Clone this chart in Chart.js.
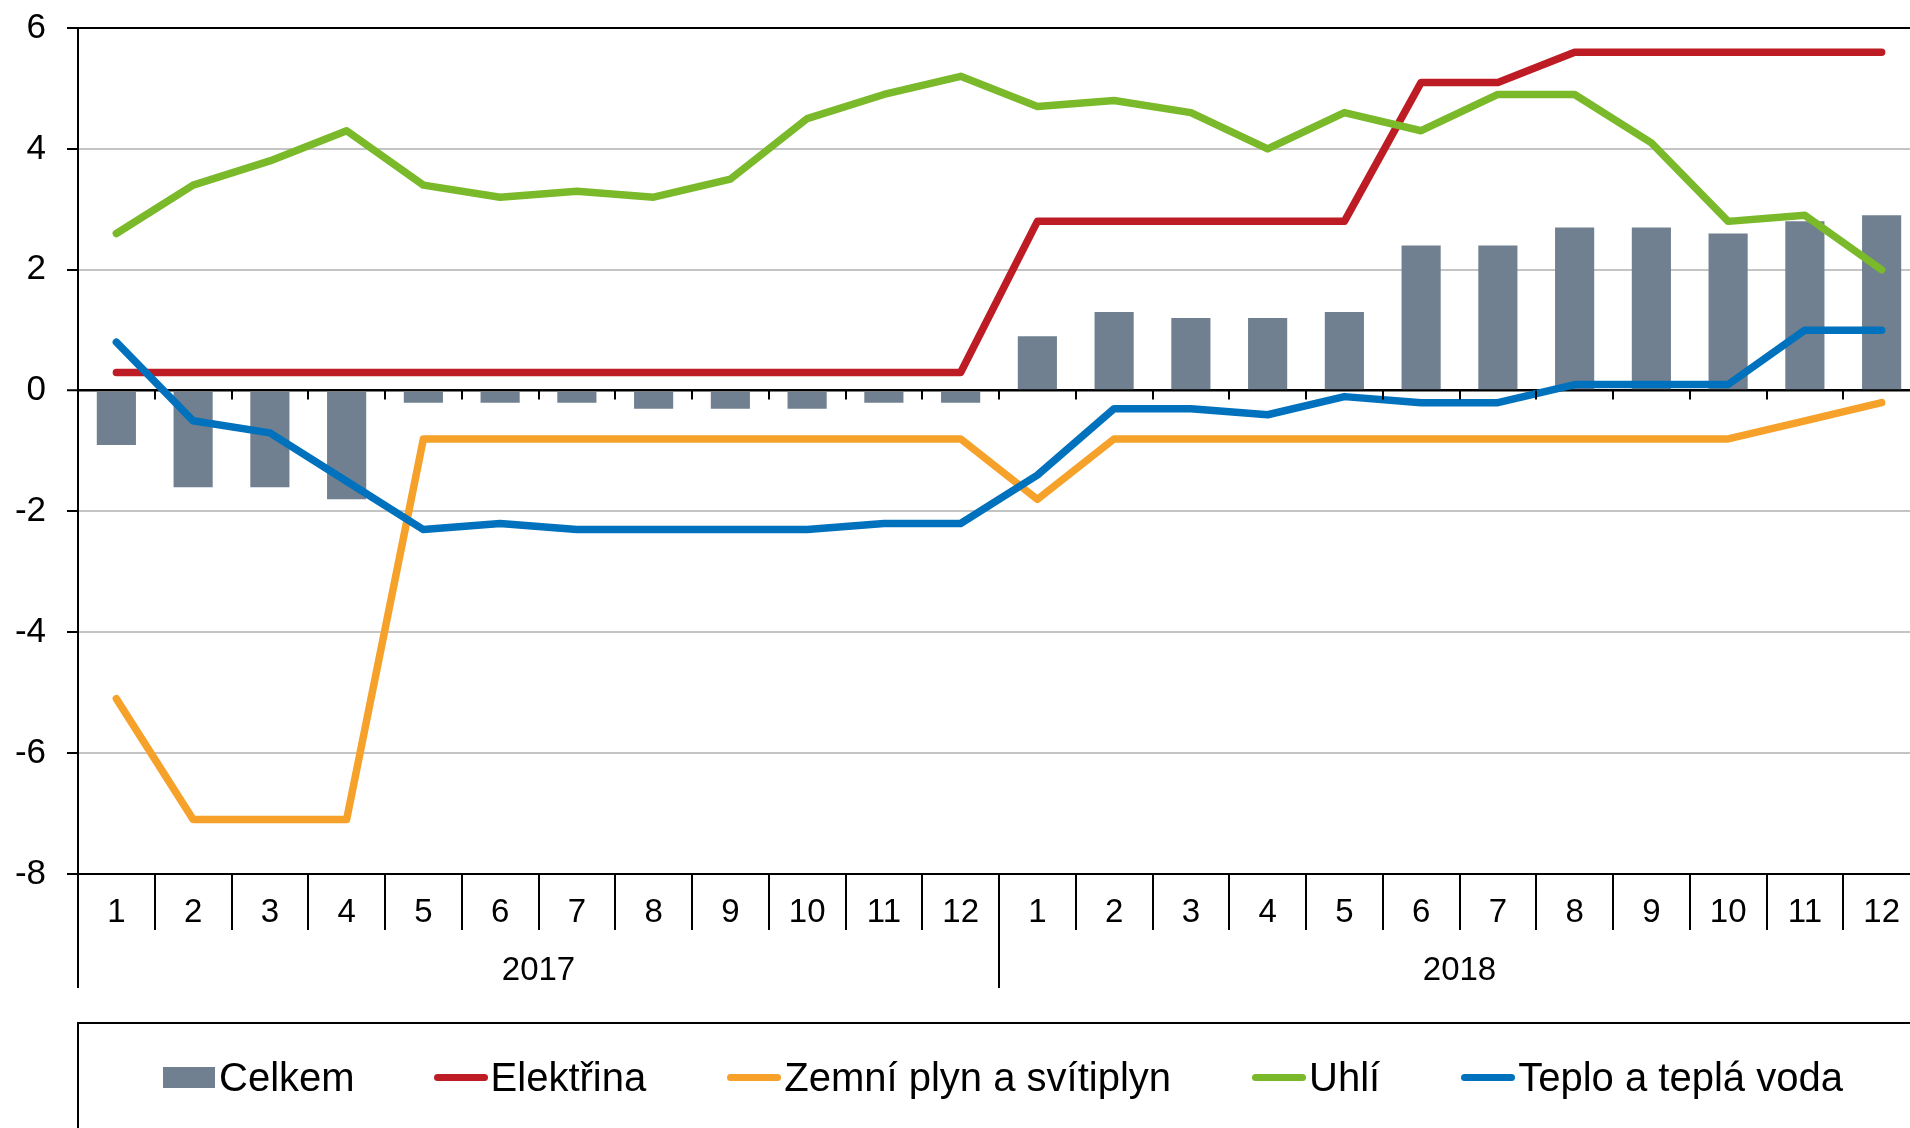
<!DOCTYPE html>
<html>
<head>
<meta charset="utf-8">
<script src="https://cdn.jsdelivr.net/npm/chart.js@4.4.0/dist/chart.umd.min.js"></script>
<style>
html,body{margin:0;padding:0;overflow:hidden;background:#fff;width:1910px;height:1128px;}
#wrap{position:relative;width:1920px;height:1128px;}
#c{position:absolute;left:0;top:0;}
#legend{position:absolute;left:77px;top:1022px;width:1900px;height:200px;border:2px solid #000;box-sizing:border-box;
  font-family:"Liberation Sans",Arial,sans-serif;font-size:40px;color:#000;}
#legend .row{position:absolute;left:84px;top:29px;height:48px;display:flex;align-items:center;white-space:nowrap;}
#legend .item{display:flex;align-items:center;margin-right:81px;}
#legend .item:first-child{margin-right:79px;}
</style>
</head>
<body>
<div id="wrap">
<canvas id="c" width="1920" height="1128"></canvas>
<div id="legend"><div class="row" id="legrow"></div></div>
</div>
<script>
// ---- data ----
const monthLabels = ['1','2','3','4','5','6','7','8','9','10','11','12','1','2','3','4','5','6','7','8','9','10','11','12'];
const years = ['2017','2018'];
const celkem = [-0.9,-1.6,-1.6,-1.8,-0.2,-0.2,-0.2,-0.3,-0.3,-0.3,-0.2,-0.2, 0.9,1.3,1.2,1.2,1.3,2.4,2.4,2.7,2.7,2.6,2.8,2.9];
const elektrina = [0.3,0.3,0.3,0.3,0.3,0.3,0.3,0.3,0.3,0.3,0.3,0.3, 2.8,2.8,2.8,2.8,2.8,5.1,5.1,5.6,5.6,5.6,5.6,5.6];
const zemniPlyn = [-5.1,-7.1,-7.1,-7.1,-0.8,-0.8,-0.8,-0.8,-0.8,-0.8,-0.8,-0.8, -1.8,-0.8,-0.8,-0.8,-0.8,-0.8,-0.8,-0.8,-0.8,-0.8,-0.5,-0.2];
const uhli = [2.6,3.4,3.8,4.3,3.4,3.2,3.3,3.2,3.5,4.5,4.9,5.2, 4.7,4.8,4.6,4.0,4.6,4.3,4.9,4.9,4.1,2.8,2.9,2.0];
const teplo = [0.8,-0.5,-0.7,-1.5,-2.3,-2.2,-2.3,-2.3,-2.3,-2.3,-2.2,-2.2, -1.4,-0.3,-0.3,-0.4,-0.1,-0.2,-0.2,0.1,0.1,0.1,1.0,1.0];
const seriesNames = ['Celkem','Elektřina','Zemní plyn a svítiplyn','Uhlí','Teplo a teplá voda'];
const yTicks = [-8,-6,-4,-2,0,2,4,6];

const FONT = '"Liberation Sans", Arial, sans-serif';
const colors = {bar:'#708090', red:'#BE1C24', orange:'#F6A129', green:'#7AB929', blue:'#0071BC'};

function lineDs(label, data, color, order){
  return {type:'line', label, data, borderColor:color, backgroundColor:color, borderWidth:7.5,
    pointRadius:0, tension:0, borderCapStyle:'round', borderJoinStyle:'round', fill:false, order};
}

const decor = {
  id:'decor',
  afterDraw(chart){
    const ctx = chart.ctx, x = chart.scales.x, y = chart.scales.y;
    const bottom = chart.chartArea.bottom;
    const y0 = y.getPixelForValue(0);
    ctx.save();
    ctx.strokeStyle = '#000';
    ctx.lineWidth = 2;
    const n = monthLabels.length;
    for (let i = 0; i <= n; i++) {
      const px = Math.round(x.getPixelForValue(i - 0.5));
      const isYear = (i % 12 === 0);
      ctx.beginPath();
      ctx.moveTo(px, bottom);
      ctx.lineTo(px, bottom + (isYear ? 114 : 56));
      ctx.stroke();
      if (i > 0 && i < n) {
        ctx.beginPath();
        ctx.moveTo(px, y0);
        ctx.lineTo(px, y0 + 9);
        ctx.stroke();
      }
    }
    ctx.fillStyle = '#000';
    ctx.font = '33px ' + FONT;
    ctx.textAlign = 'center';
    ctx.textBaseline = 'middle';
    years.forEach((yr, k) => {
      const a = x.getPixelForValue(k*12 - 0.5), b = x.getPixelForValue(k*12 + 11.5);
      ctx.fillText(yr, (a + b) / 2, bottom + 97);
    });
    ctx.restore();
  }
};

const chart = new Chart(document.getElementById('c'), {
  data: {
    labels: monthLabels,
    datasets: [
      {type:'bar', label:seriesNames[0], data:celkem, backgroundColor:colors.bar, borderWidth:0,
       barPercentage:0.51, categoryPercentage:1.0, order:5},
      lineDs(seriesNames[1], elektrina, colors.red, 4),
      lineDs(seriesNames[2], zemniPlyn, colors.orange, 3),
      lineDs(seriesNames[3], uhli, colors.green, 2),
      lineDs(seriesNames[4], teplo, colors.blue, 1)
    ]
  },
  options: {
    responsive:false,
    animation:false,
    devicePixelRatio:1,
    layout:{padding:{top:28, left:0, right:0, bottom:0}},
    plugins:{legend:{display:false}, tooltip:{enabled:false}},
    scales:{
      x:{
        type:'category', offset:true,
        grid:{display:false, drawTicks:false},
        border:{display:false},
        ticks:{color:'#000', font:{family:FONT, size:33}, padding:19, maxRotation:0, autoSkip:false},
        afterFit(s){ s.height = 1128 - 874; s.paddingLeft = 0; s.paddingRight = 0; }
      },
      y:{
        min:-8, max:6,
        afterBuildTicks(s){ s.ticks = yTicks.map(v => ({value:v})); },
        grid:{
          color:(c)=> (c.tick && (c.tick.value === 0 || c.tick.value === -8 || c.tick.value === 6)) ? '#000' : '#C4C4C4',
          lineWidth:(c)=> (c.tick && c.tick.value === 0) ? 2.5 : 2,
          tickLength:11, tickColor:'#000', tickWidth:2
        },
        border:{display:true, color:'#000', width:2},
        ticks:{color:'#000', font:{family:FONT, size:35}, padding:21},
        afterFit(s){ s.width = 78; s.paddingTop = 0; s.paddingBottom = 0; }
      }
    }
  },
  plugins:[decor]
});

// HTML legend built from the chart datasets
const row = document.getElementById('legrow');
chart.data.datasets.forEach(ds => {
  const item = document.createElement('div'); item.className = 'item';
  const sw = document.createElement('span');
  if (ds.type === 'bar') {
    sw.style.cssText = 'display:inline-block;width:52px;height:21px;background:' + ds.backgroundColor + ';margin-right:4px;';
  } else {
    sw.style.cssText = 'display:inline-block;width:54px;height:7px;border-radius:4px;background:' + ds.borderColor + ';margin-right:3px;';
  }
  const t = document.createElement('span'); t.textContent = ds.label;
  item.appendChild(sw); item.appendChild(t); row.appendChild(item);
});
</script>
</body>
</html>
